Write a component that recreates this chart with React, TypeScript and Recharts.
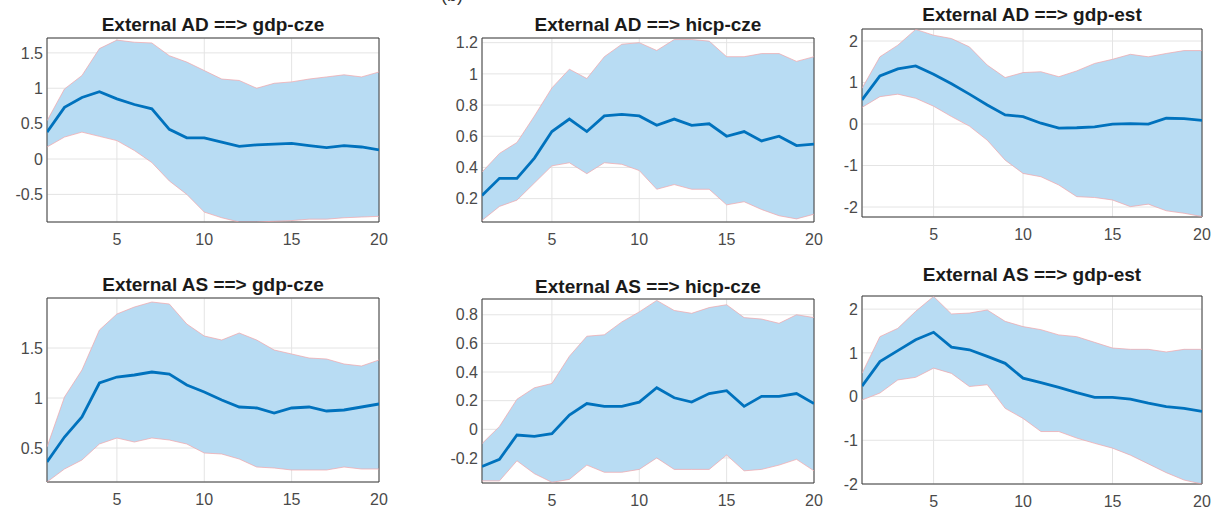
import React from 'react';
import {
  Area,
  CartesianGrid,
  ComposedChart,
  Line,
  ReferenceArea,
  XAxis,
  YAxis,
} from 'recharts';

const horizon = [1, 2, 3, 4, 5, 6, 7, 8, 9, 10, 11, 12, 13, 14, 15, 16, 17, 18, 19, 20];
const xTicks = [5, 10, 15, 20];

// External AD ==> gdp-cze
const adGdpCzeMed = [0.38, 0.73, 0.87, 0.95, 0.85, 0.77, 0.71, 0.42, 0.3, 0.3, 0.24, 0.18, 0.2, 0.21, 0.22, 0.19, 0.16, 0.19, 0.17, 0.13];
const adGdpCzeHi = [0.54, 0.99, 1.18, 1.56, 1.68, 1.65, 1.64, 1.46, 1.37, 1.25, 1.13, 1.11, 1.0, 1.07, 1.09, 1.13, 1.16, 1.19, 1.16, 1.23];
const adGdpCzeLo = [0.17, 0.31, 0.38, 0.32, 0.26, 0.12, -0.05, -0.31, -0.5, -0.75, -0.83, -0.89, -0.89, -0.88, -0.87, -0.85, -0.85, -0.83, -0.82, -0.81];

// External AD ==> hicp-cze
const adHicpCzeMed = [0.22, 0.33, 0.33, 0.46, 0.63, 0.71, 0.63, 0.73, 0.74, 0.73, 0.67, 0.71, 0.67, 0.68, 0.6, 0.63, 0.57, 0.6, 0.54, 0.55];
const adHicpCzeHi = [0.37, 0.49, 0.56, 0.73, 0.91, 1.03, 0.97, 1.11, 1.19, 1.2, 1.15, 1.22, 1.22, 1.21, 1.11, 1.11, 1.13, 1.13, 1.08, 1.11];
const adHicpCzeLo = [0.06, 0.15, 0.19, 0.3, 0.41, 0.43, 0.36, 0.43, 0.42, 0.38, 0.26, 0.29, 0.26, 0.26, 0.16, 0.18, 0.13, 0.09, 0.07, 0.1];

// External AD ==> gdp-est
const adGdpEstMed = [0.58, 1.16, 1.33, 1.4, 1.2, 0.97, 0.72, 0.46, 0.22, 0.18, 0.02, -0.1, -0.09, -0.07, 0.0, 0.01, 0.0, 0.14, 0.13, 0.09];
const adGdpEstHi = [0.86, 1.62, 1.9, 2.28, 2.14, 2.06, 1.86, 1.42, 1.12, 1.24, 1.26, 1.14, 1.28, 1.46, 1.56, 1.68, 1.62, 1.7, 1.77, 1.77];
const adGdpEstLo = [0.4, 0.66, 0.72, 0.62, 0.43, 0.18, -0.05, -0.39, -0.87, -1.19, -1.27, -1.47, -1.75, -1.77, -1.83, -1.99, -1.93, -2.09, -2.15, -2.23];

// External AS ==> gdp-cze
const asGdpCzeMed = [0.36, 0.61, 0.81, 1.15, 1.21, 1.23, 1.26, 1.24, 1.13, 1.06, 0.98, 0.91, 0.9, 0.85, 0.9, 0.91, 0.87, 0.88, 0.91, 0.94];
const asGdpCzeHi = [0.51, 1.01, 1.28, 1.68, 1.84, 1.91, 1.96, 1.94, 1.74, 1.62, 1.58, 1.65, 1.58, 1.48, 1.44, 1.4, 1.39, 1.34, 1.32, 1.38];
const asGdpCzeLo = [0.16, 0.29, 0.38, 0.54, 0.6, 0.56, 0.6, 0.58, 0.54, 0.45, 0.44, 0.39, 0.31, 0.3, 0.28, 0.28, 0.28, 0.31, 0.29, 0.29];

// External AS ==> hicp-cze
const asHicpCzeMed = [-0.26, -0.21, -0.04, -0.05, -0.03, 0.1, 0.18, 0.16, 0.16, 0.19, 0.29, 0.22, 0.19, 0.25, 0.27, 0.16, 0.23, 0.23, 0.25, 0.18];
const asHicpCzeHi = [-0.1, 0.02, 0.21, 0.29, 0.32, 0.51, 0.65, 0.66, 0.75, 0.82, 0.9, 0.83, 0.81, 0.85, 0.87, 0.78, 0.77, 0.74, 0.8, 0.78];
const asHicpCzeLo = [-0.36, -0.36, -0.22, -0.31, -0.37, -0.35, -0.25, -0.3, -0.3, -0.28, -0.2, -0.28, -0.28, -0.28, -0.18, -0.29, -0.28, -0.25, -0.21, -0.29];

// External AS ==> gdp-est
const asGdpEstMed = [0.24, 0.8, 1.05, 1.3, 1.47, 1.13, 1.07, 0.92, 0.76, 0.42, 0.32, 0.21, 0.09, -0.02, -0.02, -0.06, -0.15, -0.23, -0.27, -0.34];
const asGdpEstHi = [0.53, 1.37, 1.56, 1.95, 2.29, 1.89, 1.91, 1.98, 1.72, 1.6, 1.53, 1.41, 1.37, 1.24, 1.11, 1.08, 1.08, 1.02, 1.08, 1.08];
const asGdpEstLo = [-0.08, 0.08, 0.38, 0.44, 0.65, 0.53, 0.23, 0.27, -0.27, -0.5, -0.8, -0.8, -0.95, -1.07, -1.18, -1.34, -1.54, -1.74, -1.91, -2.0];

const BAND = '#b8dcf3';
const EDGE = '#f2a3a8';
const MEDIAN = '#0072bd';
const TICK_FONT = { fontSize: 16, fill: '#4a4a4a', fontFamily: 'Liberation Sans, Arial, sans-serif' };

interface PanelProps {
  title: string;
  med: number[];
  hi: number[];
  lo: number[];
  yDomain: [number, number];
  yTicks: number[];
  left: number;
  top: number;
  plotW: number;
  plotH: number;
  titleY: number;
}

const Y_AXIS_W = 47;
const M_TOP = 5;
const M_RIGHT = 12;
const X_AXIS_H = 32;

const Panel: React.FC<PanelProps> = ({ title, med, hi, lo, yDomain, yTicks, left, top, plotW, plotH, titleY }) => {
  const data = horizon.map((h, i) => ({ h, band: [lo[i], hi[i]], lo: lo[i], hi: hi[i], med: med[i] }));
  return (
    <>
      <div
        style={{
          position: 'absolute',
          left: left - 20,
          width: plotW + 40,
          top: titleY - 12,
          lineHeight: '24px',
          textAlign: 'center',
          fontFamily: 'Liberation Sans, Arial, sans-serif',
          fontWeight: 'bold',
          fontSize: 19,
          color: '#1a1a1a',
          whiteSpace: 'nowrap',
        }}
      >
        {title}
      </div>
      <div style={{ position: 'absolute', left: left - Y_AXIS_W, top: top - M_TOP }}>
        <ComposedChart
          width={Y_AXIS_W + plotW + M_RIGHT}
          height={M_TOP + plotH + X_AXIS_H}
          data={data}
          margin={{ top: M_TOP, right: M_RIGHT, bottom: 0, left: 0 }}
        >
          <CartesianGrid stroke="#e4e4e4" strokeWidth={1} />
          <XAxis
            dataKey="h"
            type="number"
            domain={[1, 20]}
            ticks={xTicks}
            allowDataOverflow
            axisLine={false}
            tickLine={false}
            tickSize={0}
            tickMargin={12}
            height={X_AXIS_H}
            tick={TICK_FONT}
          />
          <YAxis
            type="number"
            domain={yDomain}
            ticks={yTicks}
            allowDataOverflow
            axisLine={false}
            tickLine={false}
            tickSize={0}
            tickMargin={4}
            width={Y_AXIS_W}
            tick={TICK_FONT}
          />
          <Area
            dataKey="band"
            type="linear"
            fill={BAND}
            fillOpacity={1}
            stroke="none"
            isAnimationActive={false}
          />
          <Line dataKey="hi" type="linear" stroke={EDGE} strokeWidth={0.7} dot={false} isAnimationActive={false} />
          <Line dataKey="lo" type="linear" stroke={EDGE} strokeWidth={0.7} dot={false} isAnimationActive={false} />
          <Line dataKey="med" type="linear" stroke={MEDIAN} strokeWidth={2.8} dot={false} isAnimationActive={false} />
          <ReferenceArea
            x1={1}
            x2={20}
            y1={yDomain[0]}
            y2={yDomain[1]}
            fill="none"
            stroke="#3a3a3a"
            strokeWidth={1}
            ifOverflow="visible"
          />
        </ComposedChart>
      </div>
    </>
  );
};

export default function App() {
  return (
    <div style={{ position: 'absolute', left: 0, top: 0, width: 1221, height: 515, background: '#fff', overflow: 'hidden' }}>
      <div
        style={{
          position: 'absolute',
          left: 441,
          top: -15,
          lineHeight: '20px',
          fontFamily: 'Liberation Sans, Arial, sans-serif',
          fontSize: 18,
          color: '#333',
        }}
      >
        (b)
      </div>
      <Panel
        title="External AD ==> gdp-cze"
        med={adGdpCzeMed}
        hi={adGdpCzeHi}
        lo={adGdpCzeLo}
        yDomain={[-0.89, 1.71]}
        yTicks={[-0.5, 0, 0.5, 1, 1.5]}
        left={47}
        top={38}
        plotW={332}
        plotH={184}
        titleY={25}
      />
      <Panel
        title="External AD ==> hicp-cze"
        med={adHicpCzeMed}
        hi={adHicpCzeHi}
        lo={adHicpCzeLo}
        yDomain={[0.05, 1.23]}
        yTicks={[0.2, 0.4, 0.6, 0.8, 1, 1.2]}
        left={482}
        top={38}
        plotW={332}
        plotH={184}
        titleY={25}
      />
      <Panel
        title="External AD ==> gdp-est"
        med={adGdpEstMed}
        hi={adGdpEstHi}
        lo={adGdpEstLo}
        yDomain={[-2.24, 2.29]}
        yTicks={[-2, -1, 0, 1, 2]}
        left={862}
        top={29}
        plotW={340}
        plotH={188}
        titleY={15}
      />
      <Panel
        title="External AS ==> gdp-cze"
        med={asGdpCzeMed}
        hi={asGdpCzeHi}
        lo={asGdpCzeLo}
        yDomain={[0.16, 2.0]}
        yTicks={[0.5, 1, 1.5]}
        left={47}
        top={298}
        plotW={332}
        plotH={184}
        titleY={285}
      />
      <Panel
        title="External AS ==> hicp-cze"
        med={asHicpCzeMed}
        hi={asHicpCzeHi}
        lo={asHicpCzeLo}
        yDomain={[-0.375, 0.91]}
        yTicks={[-0.2, 0, 0.2, 0.4, 0.6, 0.8]}
        left={482}
        top={299}
        plotW={332}
        plotH={184}
        titleY={287}
      />
      <Panel
        title="External AS ==> gdp-est"
        med={asGdpEstMed}
        hi={asGdpEstHi}
        lo={asGdpEstLo}
        yDomain={[-2, 2.3]}
        yTicks={[-2, -1, 0, 1, 2]}
        left={862}
        top={296}
        plotW={340}
        plotH={188}
        titleY={275}
      />
    </div>
  );
}
